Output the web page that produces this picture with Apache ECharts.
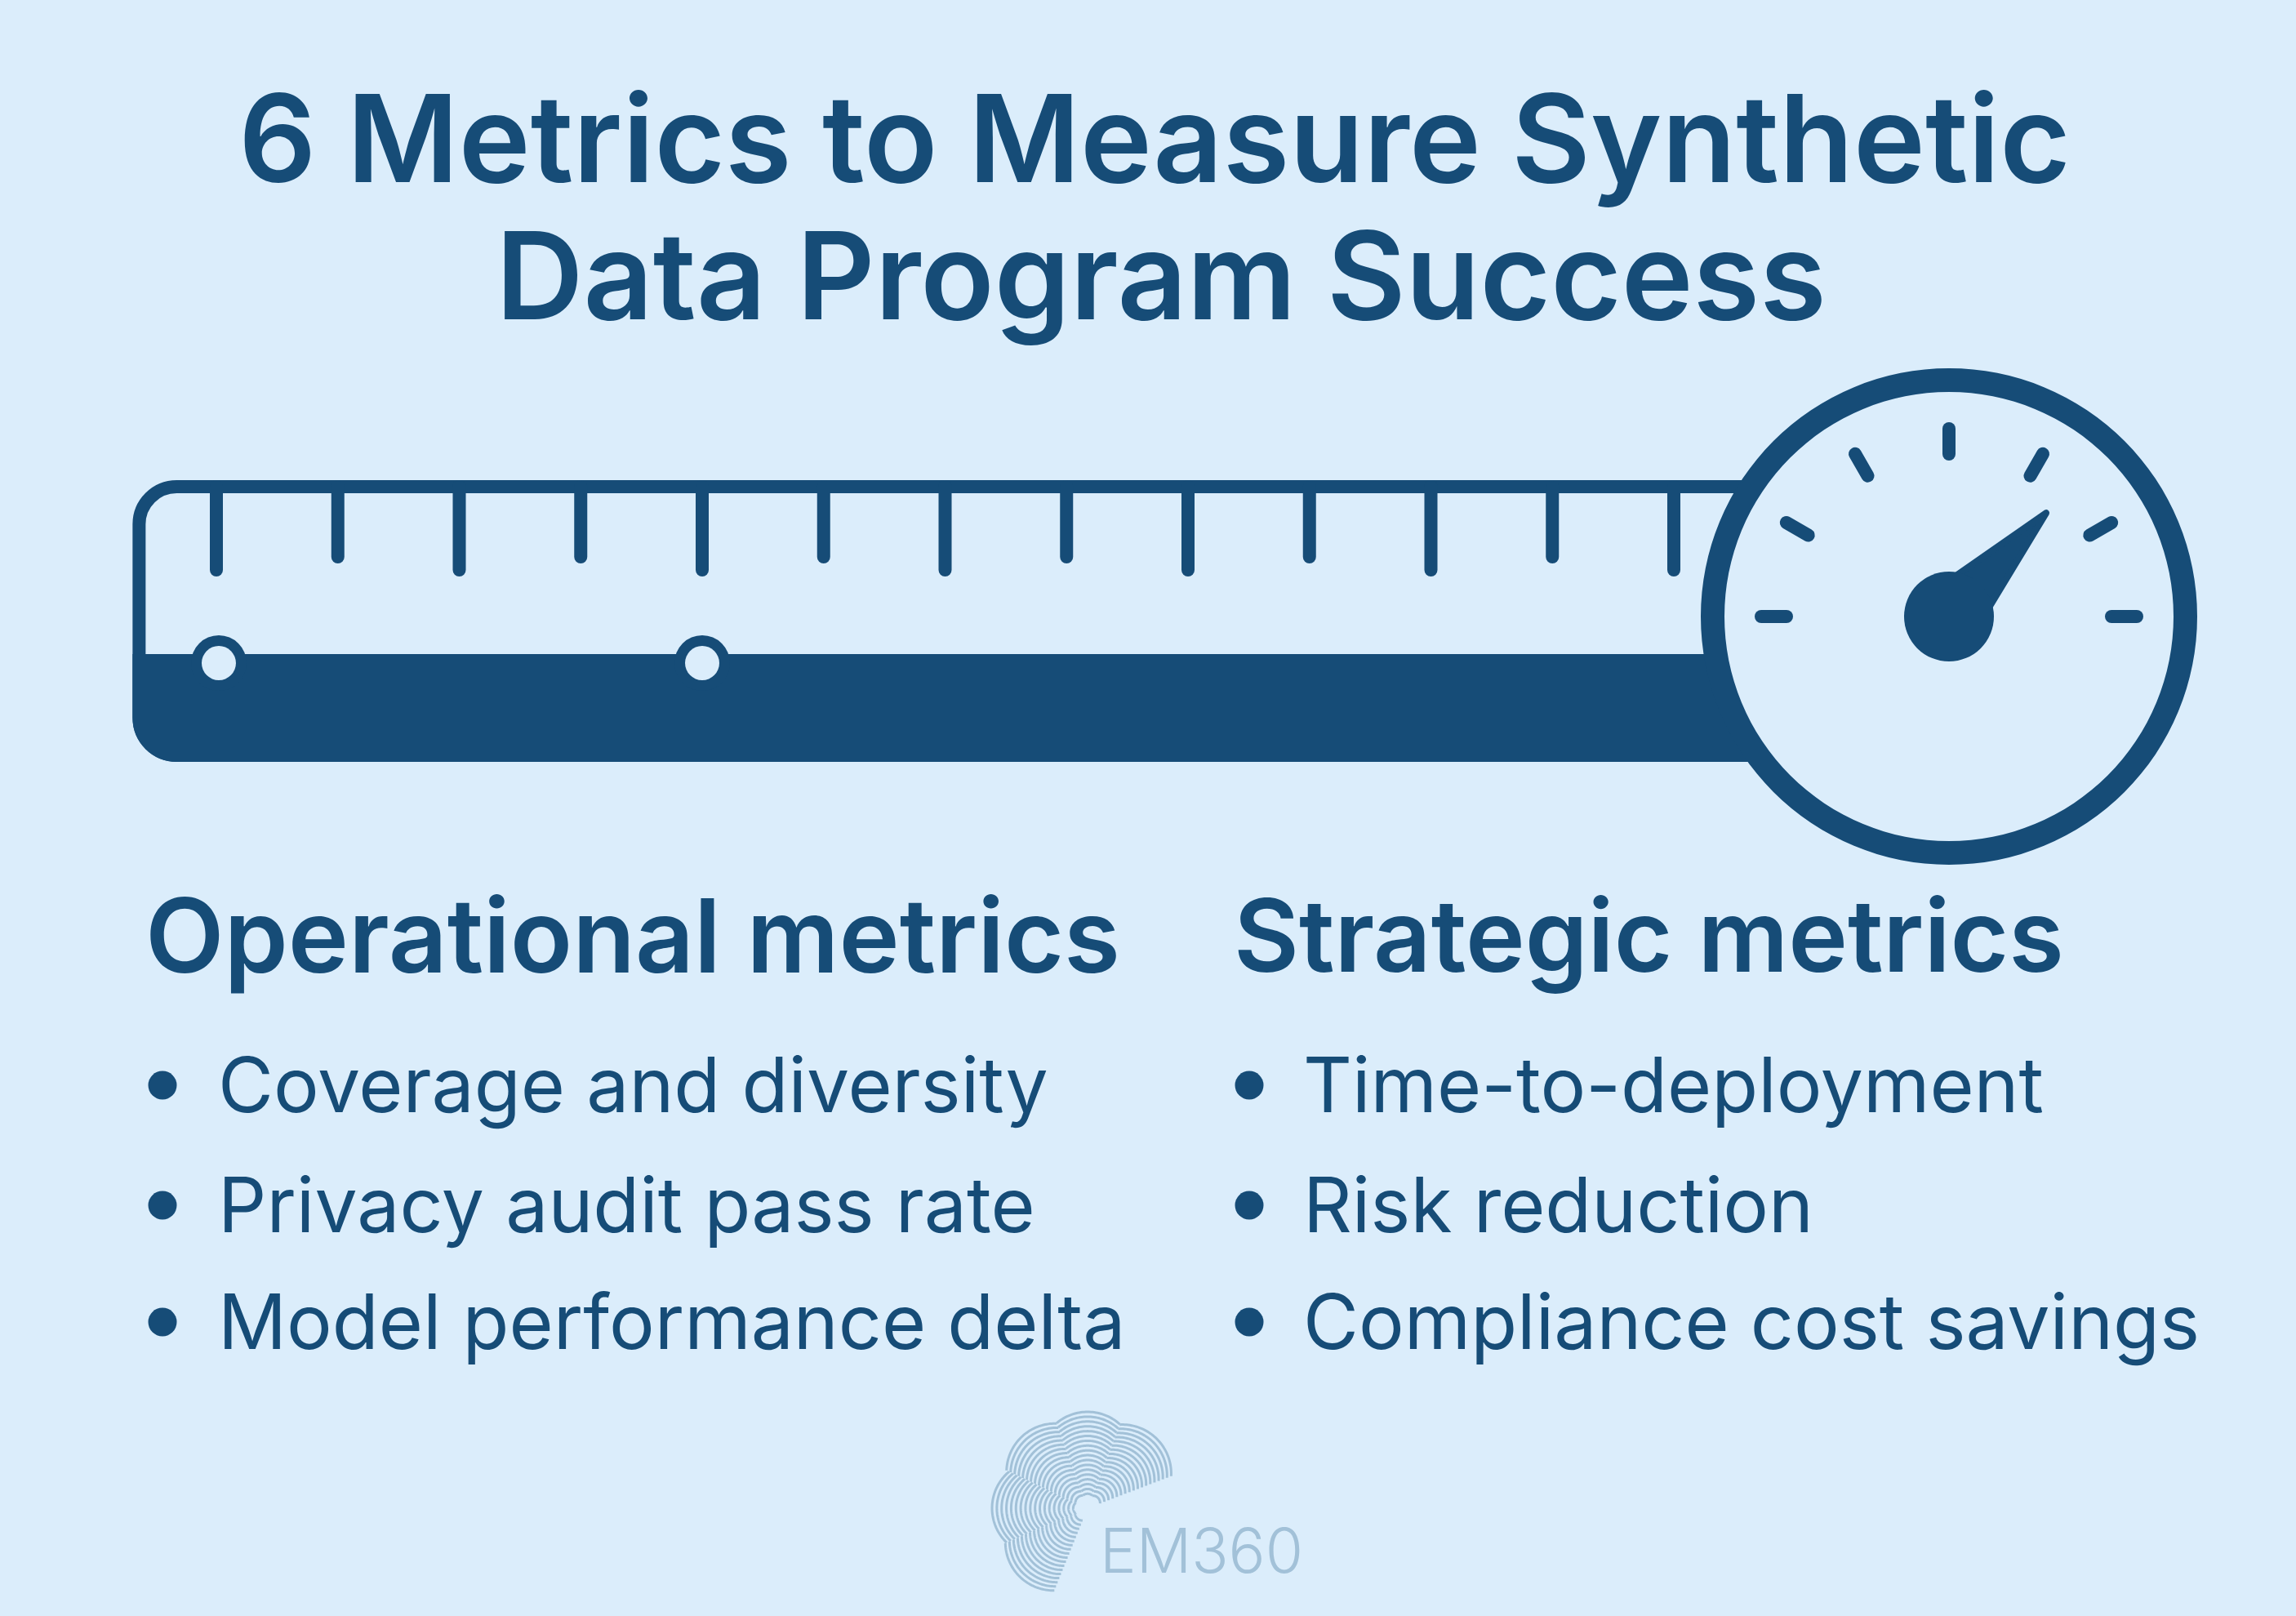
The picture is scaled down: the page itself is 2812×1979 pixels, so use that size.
<!DOCTYPE html>
<html>
<head>
<meta charset="utf-8">
<title>6 Metrics to Measure Synthetic Data Program Success</title>
<script src="https://cdn.jsdelivr.net/npm/echarts@6/dist/echarts.min.js"></script>
<style>
html, body { margin: 0; padding: 0; background: #dbedfb; }
#main { width: 2812px; height: 1979px; }
</style>
</head>
<body>
<div id="main"></div>
<script>
var titleLines = ['6 Metrics to Measure Synthetic', 'Data Program Success'];
var leftHeading = 'Operational metrics';
var rightHeading = 'Strategic metrics';
var leftItems = ['Coverage and diversity', 'Privacy audit pass rate', 'Model performance delta'];
var rightItems = ['Time-to-deployment', 'Risk reduction', 'Compliance cost savings'];
var brandName = 'EM360';

// ruler scale: one unit per tick, depth counted down from the ruler's top edge
var rulerTicks = [0, 1, 2, 3, 4, 5, 6, 7, 8, 9, 10, 11, 12];
var rulerDepths = [110, 94, 110, 94, 110, 94, 110, 94, 110, 94, 110, 94, 110];
var rulerHoles = [0.02, 4];
// dial reading, 0-100
var dialValue = 74;

var DARK = '#164c77';
var BG = '#dbedfb';
var LOGO = '#a2c1d8';
var FONT = 'Inter';

var dialCenter = [2387, 755];
var bodyLeft = -0.69, bodyRight = 13.3, bodyBottom = 345, bandTop = 213, holeDepth = 224;

function renderBody(params, api) {
	var tl = api.coord([bodyLeft, 0]);
	var br = api.coord([bodyRight, bodyBottom]);
	var bandY = api.coord([0, bandTop])[1];
	return {
		type: 'group',
		children: [
			{
				type: 'rect',
				shape: { x: tl[0] + 8, y: tl[1] + 8, width: br[0] - tl[0], height: br[1] - tl[1] - 16, r: [46, 0, 0, 46] },
				style: { fill: 'none', stroke: DARK, lineWidth: 16 }
			},
			{
				type: 'rect',
				shape: { x: tl[0], y: bandY, width: br[0] - tl[0], height: br[1] - bandY, r: [0, 0, 0, 54] },
				style: { fill: DARK }
			}
		]
	};
}

function renderTick(params, api) {
	var top = api.coord([api.value(0), 8]);
	var end = api.coord([api.value(0), api.value(1)]);
	return {
		type: 'line',
		shape: { x1: top[0], y1: top[1], x2: end[0], y2: end[1] },
		style: { stroke: DARK, lineWidth: 16, lineCap: 'round' }
	};
}

// logo mark: nested circles that all pass through one point, cut to a fan
function logoLobes() {
	var ox = 1332, oy = 1847;
	var lobes = [
		{ from: 21, to: 69, dir: 45, d: 120 },
		{ from: 69, to: 110, dir: 90, d: 118 },
		{ from: 110, to: 155, dir: 132, d: 119 },
		{ from: 155, to: 203, dir: 180, d: 117 },
		{ from: 203, to: 248, dir: 225, d: 118 }
	];
	var out = [];
	lobes.forEach(function (lobe) {
		for (var k = 3; k <= 20; k++) {
			var pts = [];
			for (var a = lobe.from; a <= lobe.to; a += 1) {
				var rho = lobe.d * (k / 20) * Math.cos((a - lobe.dir) * Math.PI / 180);
				pts.push([ox + rho * Math.cos(a * Math.PI / 180), oy - rho * Math.sin(a * Math.PI / 180)]);
			}
			out.push({
				type: 'polyline',
				silent: true,
				shape: { points: pts },
				style: { fill: 'none', stroke: LOGO, lineWidth: 3 }
			});
		}
	});
	return out;
}

function textEl(str, x, y, size, weight, color) {
	return {
		type: 'text',
		silent: true,
		style: {
			text: str, x: x, y: y, fill: color || DARK,
			font: weight + ' ' + size + 'px ' + FONT,
			verticalAlign: 'middle', align: 'left'
		}
	};
}

var graphicEls = [
	textEl(leftHeading, 178, 1153, 125.5, 600),
	textEl(rightHeading, 1511, 1153, 123, 600)
];
var rowY = [1334, 1481, 1624];
var dotY = [1329, 1476, 1619];
leftItems.forEach(function (t, i) {
	graphicEls.push({ type: 'circle', silent: true, shape: { cx: 199, cy: dotY[i], r: 17.5 }, style: { fill: DARK } });
	graphicEls.push(textEl(t, 267, rowY[i], 93, 400));
});
rightItems.forEach(function (t, i) {
	graphicEls.push({ type: 'circle', silent: true, shape: { cx: 1530, cy: dotY[i], r: 17.5 }, style: { fill: DARK } });
	graphicEls.push(textEl(t, 1596, rowY[i], 93, 400));
});
graphicEls.push(textEl(brandName, 1347, 1903, 75, 300, LOGO));
graphicEls = graphicEls.concat(logoLobes());

var chart = echarts.init(document.getElementById('main'));
chart.setOption({
	animation: false,
	backgroundColor: BG,
	title: [
		{
			text: titleLines[0],
			left: 1409,
			top: 99,
			textAlign: 'center',
			textStyle: { color: DARK, fontFamily: FONT, fontWeight: 600, fontSize: 148.6 }
		},
		{
			text: titleLines[1],
			left: 1417,
			top: 267,
			textAlign: 'center',
			textStyle: { color: DARK, fontFamily: FONT, fontWeight: 600, fontSize: 148.6 }
		}
	],
	grid: { left: 265, top: 588, width: 1785, height: 345 },
	xAxis: { type: 'value', min: 0, max: 12, show: false },
	yAxis: { type: 'value', min: 0, max: 345, inverse: true, show: false },
	graphic: graphicEls,
	series: [
		{
			type: 'custom',
			z: 1,
			silent: true,
			data: [[0, 0]],
			renderItem: renderBody
		},
		{
			type: 'custom',
			z: 2,
			silent: true,
			data: rulerTicks.map(function (t, i) { return [t, rulerDepths[i]]; }),
			renderItem: renderTick
		},
		{
			type: 'scatter',
			z: 3,
			silent: true,
			clip: false,
			symbolSize: 68,
			itemStyle: { color: DARK, opacity: 1 },
			data: rulerHoles.map(function (h) { return [h, holeDepth]; })
		},
		{
			type: 'scatter',
			z: 4,
			silent: true,
			clip: false,
			symbolSize: 42,
			itemStyle: { color: BG, opacity: 1 },
			data: rulerHoles.map(function (h) { return [h, holeDepth]; })
		},
		{
			type: 'pie',
			z: 5,
			silent: true,
			center: dialCenter,
			radius: [0, 280],
			label: { show: false },
			labelLine: { show: false },
			itemStyle: { color: BG },
			data: [1]
		},
		{
			// dial ring
			type: 'gauge',
			z: 6,
			silent: true,
			center: dialCenter,
			radius: 304,
			startAngle: 90,
			endAngle: -270,
			axisLine: { lineStyle: { width: 29, color: [[1, DARK]] } },
			axisTick: { show: false },
			splitLine: { show: false },
			axisLabel: { show: false },
			pointer: { show: false },
			detail: { show: false },
			title: { show: false },
			data: [{ value: 0 }]
		},
		{
			// dial marks and needle
			type: 'gauge',
			z: 7,
			silent: true,
			center: dialCenter,
			radius: 230,
			startAngle: 180,
			endAngle: 0,
			min: 0,
			max: 100,
			splitNumber: 6,
			axisLine: { show: false, lineStyle: { width: 0 } },
			axisTick: { show: false },
			splitLine: { distance: 0, length: 31, lineStyle: { color: DARK, width: 16, cap: 'round' } },
			axisLabel: { show: false },
			pointer: {
				icon: 'triangle',
				length: 174,
				width: 74,
				itemStyle: { color: DARK, borderColor: DARK, borderWidth: 8, borderJoin: 'round' }
			},
			anchor: { show: true, showAbove: true, size: 110, itemStyle: { color: DARK, borderWidth: 0 } },
			detail: { show: false },
			title: { show: false },
			data: [{ value: dialValue }]
		}
	]
});
</script>
</body>
</html>
